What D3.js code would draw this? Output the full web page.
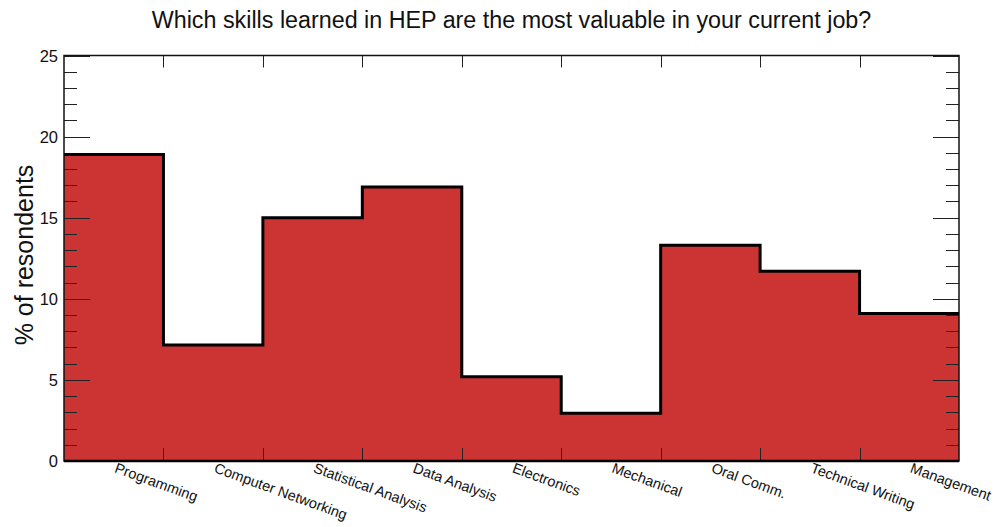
<!DOCTYPE html>
<html>
<head>
<meta charset="utf-8">
<script src="https://cdn.jsdelivr.net/npm/d3@7"></script>
<style>
  html, body { margin: 0; padding: 0; background: #fff; }
  svg { display: block; font-family: "Liberation Sans", Arial, Helvetica, sans-serif; }
</style>
</head>
<body>
<svg id="chart" width="997" height="527"></svg>
<script>
// Survey responses: share of respondents per skill
const categories = [
  "Programming", "Computer Networking", "Statistical Analysis", "Data Analysis",
  "Electronics", "Mechanical", "Oral Comm.", "Technical Writing", "Management"
];
const percentages = [18.9, 7.15, 15.0, 16.9, 5.2, 2.95, 13.3, 11.7, 9.1];
const yTicks = [0, 5, 10, 15, 20, 25];
const titleText = "Which skills learned in HEP are the most valuable in your current job?";
const yLabelText = "% of resondents";

const svg = d3.select("#chart");
const margin = { left: 64, right: 38, top: 55.5, bottom: 66 };
const W = 997, H = 527;
const x0 = margin.left, x1 = W - margin.right;
const y0 = H - margin.bottom, y1 = margin.top;

// Bins run 0..n on a linear scale so edges and centers come from one scale
const x = d3.scaleLinear().domain([0, categories.length]).range([x0, x1]);
const y = d3.scaleLinear().domain([0, 25]).range([y0, y1]);

// Filled histogram
const area = d3.area()
  .curve(d3.curveStepAfter)
  .x((d, i) => x(i))
  .y0(y(0))
  .y1(d => y(d));
const stepData = percentages.concat([percentages[percentages.length - 1]]);
svg.append("path")
  .datum(stepData)
  .attr("d", area)
  .attr("fill", "#cc3333");

// Axis ticks (drawn inside the frame, mirrored on both sides)
const tickG = svg.append("g").attr("stroke", "#222").attr("stroke-width", 1);
const minorY = d3.range(0, 25.001, 1);
minorY.forEach(v => {
  const major = v % 5 === 0;
  const len = major ? 26 : 13;
  const yy = Math.round(y(v)) + 0.5;
  tickG.append("line").attr("x1", x0).attr("x2", x0 + len).attr("y1", yy).attr("y2", yy);
  tickG.append("line").attr("x1", x1).attr("x2", x1 - len).attr("y1", yy).attr("y2", yy);
});
d3.range(1, categories.length).forEach(i => {
  const xx = Math.round(x(i)) + 0.5;
  tickG.append("line").attr("x1", xx).attr("x2", xx).attr("y1", y0).attr("y2", y0 - 13);
  tickG.append("line").attr("x1", xx).attr("x2", xx).attr("y1", y1).attr("y2", y1 + 12);
});

// Frame
svg.append("rect")
  .attr("x", x0).attr("y", y1)
  .attr("width", x1 - x0).attr("height", y0 - y1)
  .attr("fill", "none").attr("stroke", "#111").attr("stroke-width", 1.5);

// Histogram outline
const line = d3.line()
  .curve(d3.curveStepAfter)
  .x((d, i) => x(i))
  .y(d => y(d));
svg.append("path")
  .datum(stepData)
  .attr("d", line)
  .attr("fill", "none")
  .attr("stroke", "#000")
  .attr("stroke-width", 3)
  .attr("stroke-linejoin", "miter");
svg.append("line")
  .attr("x1", x0).attr("x2", x1).attr("y1", y0).attr("y2", y0)
  .attr("stroke", "#000").attr("stroke-width", 2.5);

// Y tick labels
svg.append("g").selectAll("text")
  .data(yTicks)
  .join("text")
  .attr("x", x0 - 6)
  .attr("y", d => y(d) + 6)
  .attr("text-anchor", "end")
  .attr("font-size", 16.5)
  .attr("fill", "#111")
  .text(d => d);

// Category labels, slanted below each bin
svg.append("g").selectAll("text")
  .data(categories)
  .join("text")
  .attr("transform", (d, i) => `translate(${x(i + 0.5)},${y0 + 11}) rotate(20)`)
  .attr("font-size", 14.5)
  .attr("fill", "#111")
  .text(d => d);

// Title
svg.append("text")
  .attr("x", (x0 + x1) / 2)
  .attr("y", 27.5)
  .attr("text-anchor", "middle")
  .attr("font-size", 23.3)
  .attr("fill", "#111")
  .text(titleText);

// Y axis title
svg.append("text")
  .attr("transform", `translate(33,255) rotate(-90)`)
  .attr("text-anchor", "middle")
  .attr("font-size", 25)
  .attr("fill", "#111")
  .text(yLabelText);
</script>
</body>
</html>
